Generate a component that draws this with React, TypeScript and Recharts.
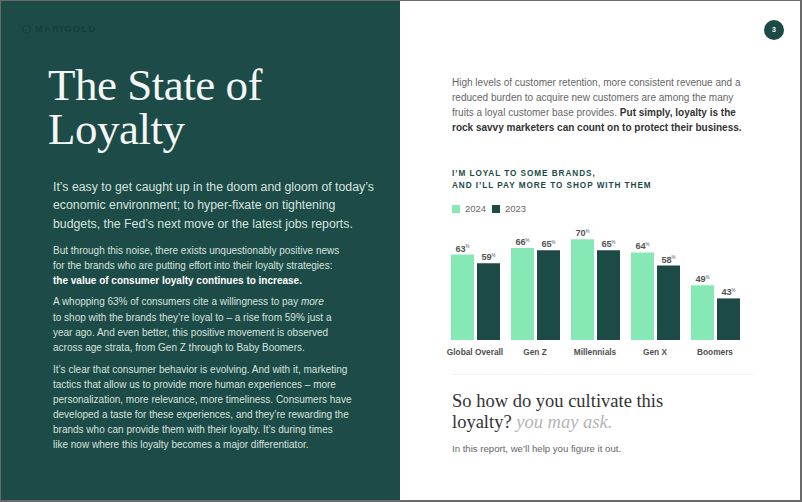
import { BarChart, Bar, XAxis, YAxis, Legend, LabelList } from "recharts"

// ── Data ───────────────────────────────────────────────────────
const categories = ["Global Overall", "Gen Z", "Millennials", "Gen X", "Boomers"]
const values2024 = [63, 66, 70, 64, 49]
const values2023 = [59, 65, 65, 58, 43]
const seriesNames = ["2024", "2023"]

const COLOURS = {
  panel: "#1c4b48",
  mint: "#86e9b5",
  teal: "#1b4a47",
  label: "#555555",
  axis: "#4f4f4f",
  body: "#d6e2de",
  grey: "#666666",
  dark: "#333333",
}

const SANS = "'Liberation Sans', Arial, sans-serif"
const SERIF = "'Liberation Serif', 'Times New Roman', serif"

const chartData = categories.map((name, i) => ({
  name,
  "2024": values2024[i],
  "2023": values2023[i],
}))

// ── Chart pieces ───────────────────────────────────────────────
function ValueLabel(props: any) {
  const { x, y, width, value } = props
  return (
    <text
      x={Number(x) + Number(width) / 2}
      y={Number(y) - 3}
      textAnchor="middle"
      fontFamily={SANS}
      fontSize={9.2}
      fontWeight={700}
      fill={COLOURS.label}
    >
      {value}
      <tspan fontSize={4.5} dy={-3.5} fontWeight={400}>%</tspan>
    </text>
  )
}

function CategoryTick(props: any) {
  const { x, y, payload } = props
  return (
    <text
      x={x}
      y={Number(y) + 7}
      textAnchor="middle"
      fontFamily={SANS}
      fontSize={8.3}
      fontWeight={700}
      fill={COLOURS.axis}
    >
      {payload.value}
    </text>
  )
}

function LegendContent() {
  const swatch = [COLOURS.mint, COLOURS.teal]
  return (
    <div style={{ height: 12, position: "relative", fontFamily: SANS, fontSize: 9.4, color: COLOURS.grey }}>
      {seriesNames.map((s, i) => (
        <div key={s} style={{ position: "absolute", left: 7 + i * 40, top: 4, display: "flex", alignItems: "center" }}>
          <span style={{ width: 8, height: 8, background: swatch[i], display: "inline-block" }} />
          <span style={{ marginLeft: 5, lineHeight: "8px" }}>{s}</span>
        </div>
      ))}
    </div>
  )
}

function LoyaltyChart() {
  return (
    <BarChart
      width={300}
      height={160}
      data={chartData}
      margin={{ top: 0, right: 0, left: 0, bottom: 0 }}
      barCategoryGap={6}
      barGap={3}
    >
      <Legend verticalAlign="top" align="left" content={<LegendContent />} />
      <XAxis
        dataKey="name"
        axisLine={false}
        tickLine={false}
        height={21}
        interval={0}
        tick={<CategoryTick />}
      />
      <YAxis hide domain={[24, 82]} allowDataOverflow />
      <Bar dataKey="2024" fill={COLOURS.mint} isAnimationActive={false}>
        <LabelList dataKey="2024" content={<ValueLabel />} />
      </Bar>
      <Bar dataKey="2023" fill={COLOURS.teal} isAnimationActive={false}>
        <LabelList dataKey="2023" content={<ValueLabel />} />
      </Bar>
    </BarChart>
  )
}

// ── Page ───────────────────────────────────────────────────────
const abs = (left: number, top: number, extra: React.CSSProperties = {}): React.CSSProperties => ({
  position: "absolute",
  left,
  top,
  whiteSpace: "nowrap",
  ...extra,
})

export default function App() {
  const bodyL: React.CSSProperties = { fontFamily: SANS, fontSize: 10, lineHeight: "15.2px", color: COLOURS.body }
  const titleStyle: React.CSSProperties = { fontFamily: SERIF, fontSize: 45, lineHeight: "40px", letterSpacing: -0.5, color: "#f4f7f6" }
  return (
    <div
      style={{
        position: "absolute",
        left: 0,
        top: 0,
        width: 802,
        height: 502,
        overflow: "hidden",
        background: "#ffffff",
        boxSizing: "border-box",
        borderTop: "1px solid #6a6a6a",
        borderLeft: "1px solid #6a6a6a",
        borderRight: "2px solid #6a6a6a",
        borderBottom: "2px solid #6a6a6a",
      }}
    >
      {/* left panel */}
      <div style={{ position: "absolute", left: 0, top: 0, width: 399, height: 502, background: COLOURS.panel }} />

      {/* logo */}
      <div style={abs(21, 23, { display: "flex", alignItems: "center", fontFamily: SANS, fontSize: 9, fontWeight: 700, letterSpacing: 1.6, color: "#163d3a" })}>
        <span style={{ width: 7, height: 7, border: "1.5px solid #163d3a", borderRadius: "50%", display: "inline-block", marginRight: 4 }} />
        MARIGOLD
      </div>

      {/* title, one element per line */}
      <div style={abs(47, 64, titleStyle)}>The State of</div>
      <div style={abs(47, 108, titleStyle)}>Loyalty</div>

      <div style={abs(52, 177, { fontFamily: SANS, fontSize: 12.3, lineHeight: "18.3px", color: COLOURS.body })}>
        It’s easy to get caught up in the doom and gloom of today’s
        <br />
        economic environment; to hyper-fixate on tightening
        <br />
        budgets, the Fed’s next move or the latest jobs reports.
      </div>

      <div style={{ ...abs(52, 241.5), ...bodyL }}>
        But through this noise, there exists unquestionably positive news
        <br />
        for the brands who are putting effort into their loyalty strategies:
        <br />
        <b style={{ color: "#ffffff" }}>the value of consumer loyalty continues to increase.</b>
      </div>

      <div style={{ ...abs(52, 293.4), ...bodyL }}>
        A whopping 63% of consumers cite a willingness to pay <i>more</i>
        <br />
        to shop with the brands they’re loyal to – a rise from 59% just a
        <br />
        year ago. And even better, this positive movement is observed
        <br />
        across age strata, from Gen Z through to Baby Boomers.
      </div>

      <div style={{ ...abs(52, 360.8), ...bodyL, lineHeight: "15.1px" }}>
        It’s clear that consumer behavior is evolving. And with it, marketing
        <br />
        tactics that allow us to provide more human experiences – more
        <br />
        personalization, more relevance, more timeliness. Consumers have
        <br />
        developed a taste for these experiences, and they’re rewarding the
        <br />
        brands who can provide them with their loyalty. It’s during times
        <br />
        like now where this loyalty becomes a major differentiator.
      </div>

      {/* page number */}
      <div
        style={abs(763, 19, {
          width: 20,
          height: 20,
          borderRadius: "50%",
          background: COLOURS.teal,
          color: "#ffffff",
          fontFamily: SANS,
          fontSize: 7,
          fontWeight: 700,
          lineHeight: "20px",
          textAlign: "center",
        })}
      >
        3
      </div>

      {/* right intro */}
      <div style={abs(451, 73.5, { fontFamily: SANS, fontSize: 10, lineHeight: "15px", color: COLOURS.grey })}>
        High levels of customer retention, more consistent revenue and a
        <br />
        reduced burden to acquire new customers are among the many
        <br />
        fruits a loyal customer base provides. <b style={{ color: COLOURS.dark }}>Put simply, loyalty is the</b>
        <br />
        <b style={{ color: COLOURS.dark }}>rock savvy marketers can count on to protect their business.</b>
      </div>

      {/* chart title */}
      <div
        style={abs(451, 167, {
          fontFamily: SANS,
          fontSize: 8.2,
          fontWeight: 700,
          letterSpacing: 0.95,
          lineHeight: "12.4px",
          color: COLOURS.teal,
        })}
      >
        I’M LOYAL TO SOME BRANDS,
        <br />
        AND I’LL PAY MORE TO SHOP WITH THEM
      </div>

      {/* chart */}
      <div style={{ position: "absolute", left: 444, top: 200 }}>
        <LoyaltyChart />
      </div>

      {/* separator */}
      <div style={{ position: "absolute", left: 450, top: 373, width: 302, height: 1, background: "#efefef" }} />

      {/* closing */}
      <div style={abs(451, 389.5, { fontFamily: SERIF, fontSize: 18.5, lineHeight: "21px", color: COLOURS.dark })}>
        So how do you cultivate this
        <br />
        loyalty? <i style={{ color: "#b5b5b5" }}>you may ask.</i>
      </div>

      <div style={abs(451, 441.3, { fontFamily: SANS, fontSize: 9.6, lineHeight: "14px", color: COLOURS.grey })}>
        In this report, we’ll help you figure it out.
      </div>
    </div>
  )
}
